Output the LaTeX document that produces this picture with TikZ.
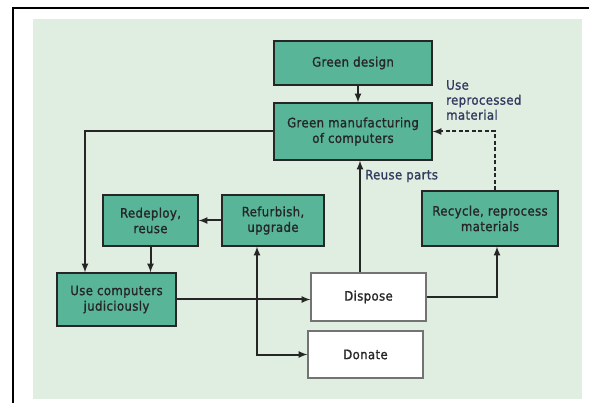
\documentclass[tikz,border=0pt]{standalone}
\usepackage{fontspec}
\setmainfont{DejaVu Sans Condensed}[FakeBold=1.2, LetterSpace=3]
\usetikzlibrary{arrows}
\definecolor{boxgreen}{RGB}{89,181,152}
\definecolor{paleback}{RGB}{223,238,224}
\definecolor{boxline}{RGB}{38,38,38}
\definecolor{labtext}{RGB}{50,58,95}
\tikzset{
  greenbox/.style={draw=boxline, line width=1.1pt, fill=boxgreen, align=center,
    inner sep=0pt, text=boxline, font=\fontsize{13}{15.5}\selectfont},
  whitebox/.style={greenbox, fill=white, draw=black!55},
  flow/.style={line width=2pt, draw=boxline, -latex},
  lab/.style={text=labtext, align=left, inner sep=0pt, font=\fontsize{13}{15}\selectfont},
}
\begin{document}
\begin{tikzpicture}[x=1pt,y=-1pt]
  \useasboundingbox (0,0) rectangle (589,403);
  \fill[paleback] (33,19) rectangle (582,399);
  \draw[line width=1.5pt] (13,403) -- (13,8) -- (589,8);

  \node[greenbox, minimum width=158pt, minimum height=44pt] (design) at (353,63) {Green design};
  \node[greenbox, minimum width=158pt, minimum height=57pt] (manuf) at (353,131.5) {Green manufacturing\\of computers};
  \node[greenbox, minimum width=95pt, minimum height=51pt] (redeploy) at (150.5,220.5) {Redeploy,\\reuse};
  \node[greenbox, minimum width=102pt, minimum height=51pt] (refurb) at (273,220.5) {Refurbish,\\upgrade};
  \node[greenbox, minimum width=136pt, minimum height=55pt] (recycle) at (490,218.5) {Recycle, reprocess\\materials};
  \node[greenbox, minimum width=119pt, minimum height=53pt] (usecomp) at (116.5,299.5) {Use computers\\judiciously};
  \node[whitebox, minimum width=115pt, minimum height=48pt] (dispose) at (368.5,297) {Dispose};
  \node[whitebox, minimum width=115pt, minimum height=47pt] (donate) at (365.5,354.5) {Donate};

  \node[lab, anchor=north west] (usemat) at (446,80) {Use\\reprocessed\\material};
  \node[lab, anchor=west] (reuse) at (365,176) {Reuse parts};

  \draw[flow] ([xshift=5pt]design.south) -- ([xshift=5pt]manuf.north);
  \draw[flow] (manuf.west) -| ([xshift=-31.5pt]usecomp.north);
  \draw[flow] (redeploy.south) -- (redeploy.south |- usecomp.north);
  \draw[flow] (refurb.west) -- (redeploy.east);
  \draw[flow] (usecomp.east) -- (usecomp.east -| dispose.west);
  \draw[flow] ([xshift=-8.5pt]dispose.north) -- ([xshift=-8.5pt]dispose.north |- manuf.south);
  \draw[flow] (dispose.east) -| ([xshift=7pt]recycle.south);
  \draw[flow, dash pattern=on 4pt off 2.5pt] ([xshift=5pt]recycle.north) |- (manuf.east);
  \draw[flow, latex-latex] ([xshift=-16pt]refurb.south) |- (donate.west);
\end{tikzpicture}
\end{document}
